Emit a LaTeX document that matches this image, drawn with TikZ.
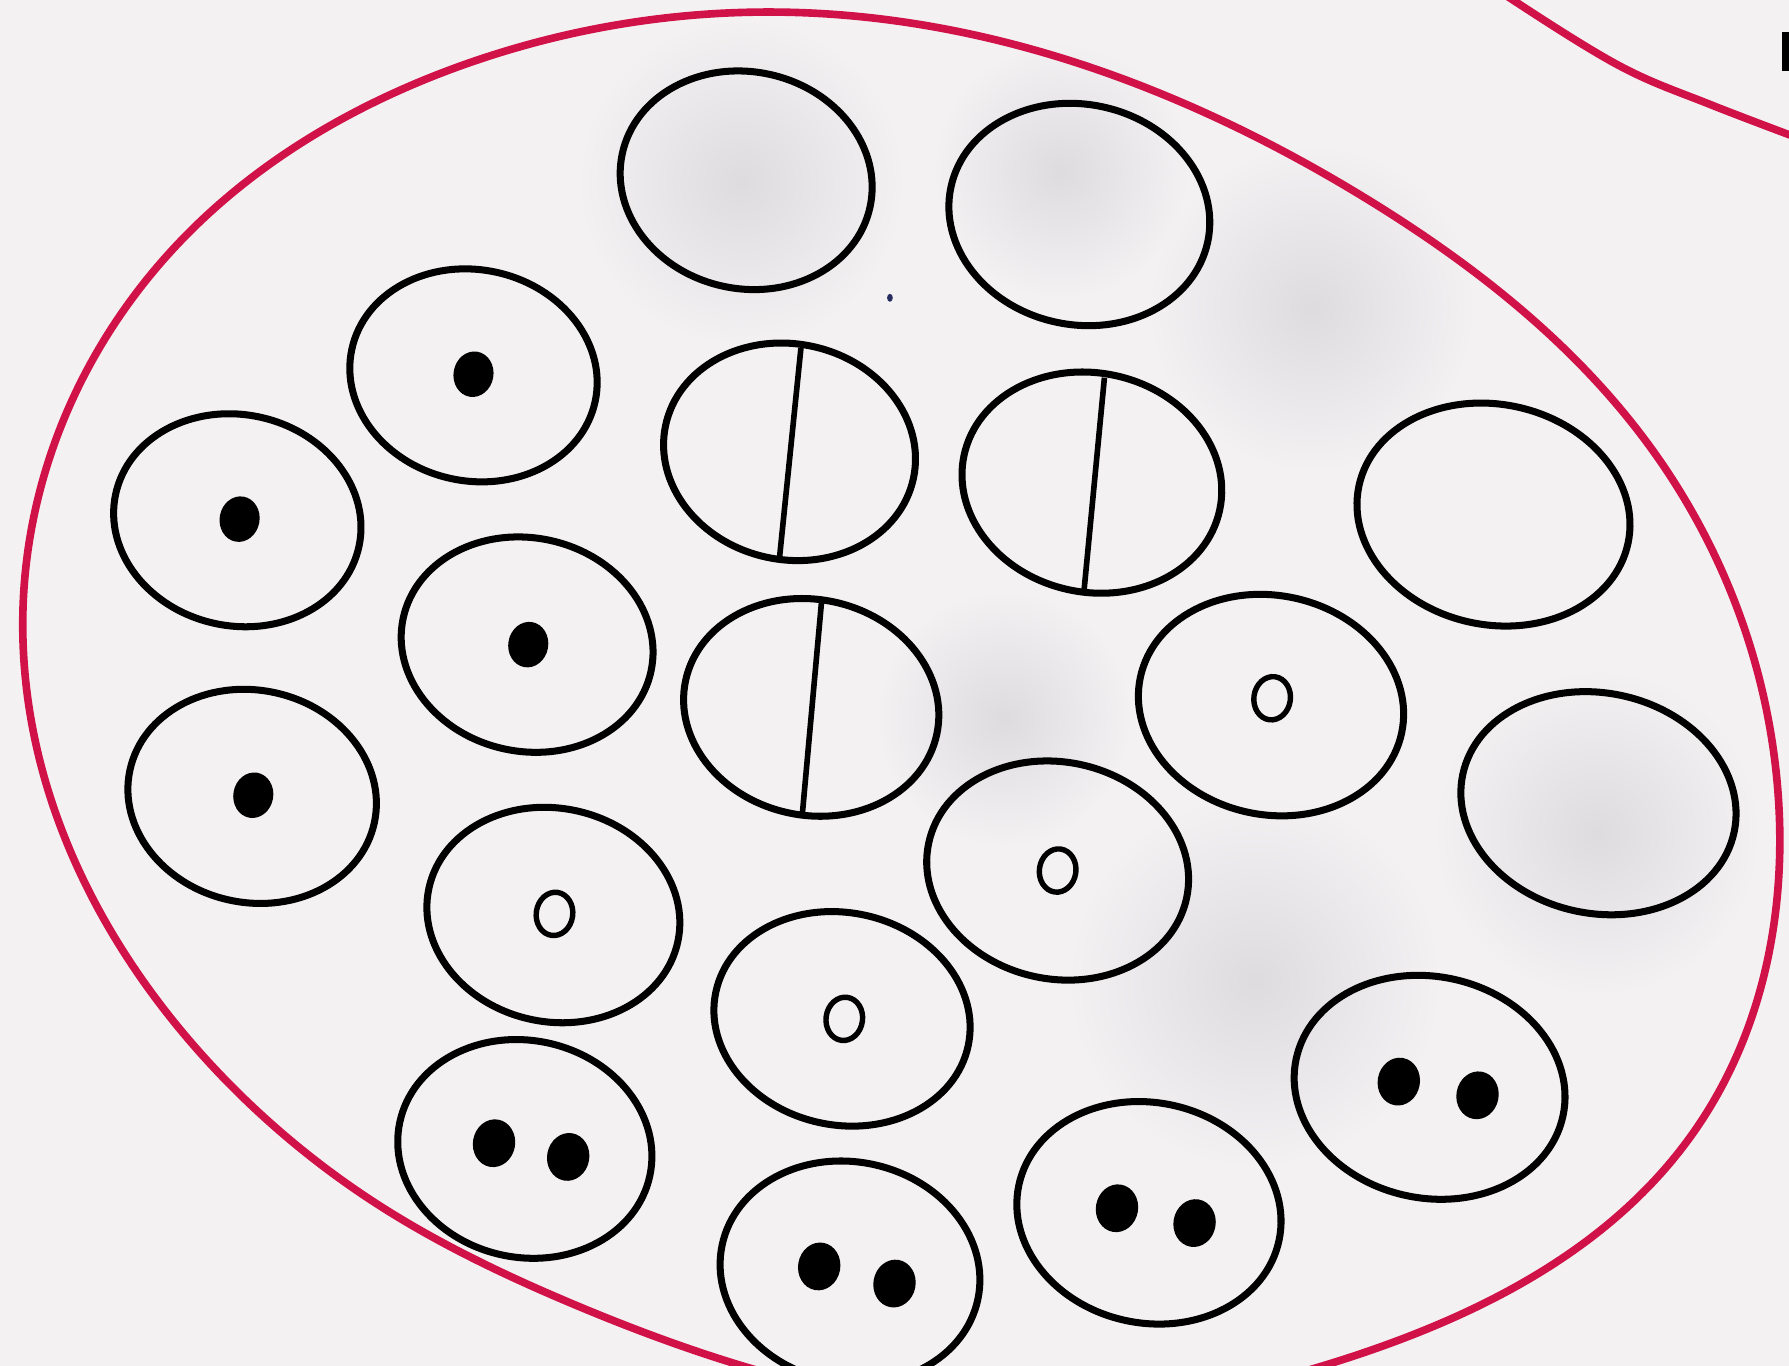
\documentclass[tikz,border=0pt]{standalone}
\usetikzlibrary{shapes.geometric,hobby,fadings}
\tikzfading[name=blobfade, inner color=transparent!0, outer color=transparent!100]
\definecolor{paper}{RGB}{244,241,243}
\definecolor{blob}{RGB}{222,220,223}
\definecolor{redline}{RGB}{208,18,72}
\definecolor{speck}{RGB}{40,45,95}
\tikzset{
  cell/.style 2 args={ellipse, draw=black, line width=1.75pt, minimum width=#1, minimum height=#2, inner sep=0pt, outer sep=0pt, rotate=-12},
  dot/.style={ellipse, fill=black, minimum width=0.35cm, minimum height=0.40cm, inner sep=0pt, rotate=-10},
  bigdot/.style={ellipse, fill=black, minimum width=0.37cm, minimum height=0.42cm, inner sep=0pt, rotate=-10},
  ring/.style={ellipse, draw=black, line width=1.35pt, minimum width=0.32cm, minimum height=0.38cm, inner sep=0pt, rotate=-8},
  splitline/.style={draw=black, line width=1.4pt},
  outline/.style={draw=redline, line width=1.9pt},
  shadow/.style={fill=blob, path fading=blobfade},
}
\begin{document}
\begin{tikzpicture}[x=0.01cm, y=-0.01cm]
\useasboundingbox (0,0) rectangle (1568,1197);
\fill[paper] (0,0) rectangle (1568,1197);
\begin{scope}
\clip (0,0) rectangle (1568,1197);
% faint show-through of the scanned page
\fill[shadow] (650,160) circle [radius=1.4cm];
\fill[shadow] (930,150) circle [radius=1.1cm];
\fill[shadow] (1150,270) circle [radius=1.4cm];
\fill[shadow] (1400,730) circle [radius=1.4cm];
\fill[shadow] (1100,860) circle [radius=1.6cm];
\fill[shadow] (880,630) circle [radius=1.1cm];

% large red outline
\draw[outline, use Hobby shortcut, closed=true]
 (700,11) .. (1199,175) .. (1448,394) .. (1558,690) .. (1484,993) .. (1182,1190) ..
 (905,1238) .. (500,1142) .. (330,1055) .. (201,950) .. (20,540) .. (151,219) .. (403,58);
% second red arc, top right
\draw[outline] plot[smooth, tension=0.6] coordinates {(1300,-20) (1326,0) (1420,58) (1500,92) (1600,130)};
% black mark at right edge
\draw[black, line width=1.6pt] (1565,28) -- (1565,62);
% speck
\fill[speck] (780,261) ellipse [x radius=2.5, y radius=3.5];

% cells
\node[cell={2.22cm}{1.90cm}] (A) at (654,158) {};
\node[cell={2.30cm}{1.93cm}] (B) at (946,188) {};
\node[cell={2.18cm}{1.85cm}] (C) at (415,329) {};
\node[cell={2.18cm}{1.85cm}] (D) at (208,456) {};
\node[cell={2.22cm}{1.87cm}] (E) at (462,565) {};
\node[cell={2.19cm}{1.86cm}] (F) at (221,698) {};
\node[cell={2.22cm}{1.89cm}] (G) at (692,396) {};
\node[cell={2.29cm}{1.92cm}] (H) at (957,423) {};
\node[cell={2.25cm}{1.89cm}] (I) at (711,620) {};
\node[cell={2.41cm}{1.93cm}] (J) at (1309,451) {};
\node[cell={2.34cm}{1.92cm}] (K) at (1114,618) {};
\node[cell={2.43cm}{1.93cm}] (L) at (1401,704) {};
\node[cell={2.31cm}{1.90cm}] (M) at (927,763) {};
\node[cell={2.23cm}{1.87cm}] (N) at (485,802) {};
\node[cell={2.26cm}{1.86cm}] (O) at (738,893) {};
\node[cell={2.24cm}{1.90cm}] (P) at (460,1007) {};
\node[cell={2.39cm}{1.94cm}] (Q) at (1253,953) {};
\node[cell={2.33cm}{1.93cm}] (R) at (1007,1063) {};
\node[cell={2.29cm}{1.93cm}] (S) at (745,1115) {};

% single nuclei
\node[dot] (C1) at (415,328) {};
\node[dot] (D1) at (210,455) {};
\node[dot] (E1) at (463,565) {};
\node[dot] (F1) at (222,697) {};

% split cells
\coordinate (Gt) at (702,305);
\coordinate (Gb) at (683,491);
\coordinate (Ht) at (968,331);
\coordinate (Hb) at (950,519);
\coordinate (It) at (720,528);
\coordinate (Ib) at (703,716);
\draw[splitline] (Gt) -- (Gb);
\draw[splitline] (Ht) -- (Hb);
\draw[splitline] (It) -- (Ib);

% rings
\node[ring] (K1) at (1115,612) {};
\node[ring] (M1) at (927,763) {};
\node[ring] (N1) at (486,801) {};
\node[ring] (O1) at (740,893) {};

% double nuclei
\node[bigdot] (P1) at (433,1002) {};
\node[bigdot] (P2) at (498,1014) {};
\node[bigdot] (Q1) at (1226,948) {};
\node[bigdot] (Q2) at (1295,960) {};
\node[bigdot] (R1) at (979,1059) {};
\node[bigdot] (R2) at (1047,1072) {};
\node[bigdot] (S1) at (718,1110) {};
\node[bigdot] (S2) at (784,1125) {};
\end{scope}
\end{tikzpicture}
\end{document}
